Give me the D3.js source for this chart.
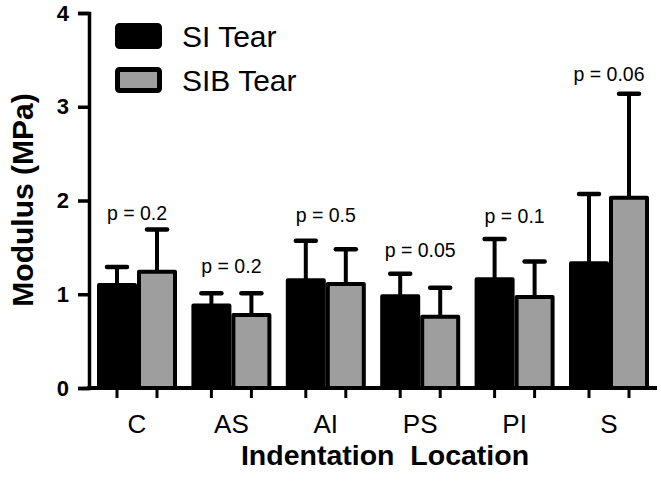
<!DOCTYPE html>
<html>
<head>
<meta charset="utf-8">
<script src="https://cdn.jsdelivr.net/npm/d3@7"></script>
<style>
  html, body { margin: 0; padding: 0; background: #fff; }
  svg { display: block; font-family: "Liberation Sans", Arial, Helvetica, sans-serif; }
</style>
</head>
<body>
<svg id="chart" width="661" height="482"></svg>
<script>
// ---- data ----
const categories = ["C", "AS", "AI", "PS", "PI", "S"];
const seriesNames = ["SI Tear", "SIB Tear"];
const siMean = [1.10, 0.88, 1.15, 0.98, 1.16, 1.33];
const siSD   = [0.19, 0.13, 0.42, 0.24, 0.43, 0.74];
const sibMean = [1.24, 0.78, 1.11, 0.76, 0.97, 2.03];
const sibSD   = [0.45, 0.23, 0.37, 0.31, 0.38, 1.11];
const pLabels = ["p = 0.2", "p = 0.2", "p = 0.5", "p = 0.05", "p = 0.1", "p = 0.06"];
const pLabelLevel = [1.79, 1.23, 1.77, 1.40, 1.76, 3.28]; // MPa level of label baseline
const yTicks = [0, 1, 2, 3, 4];

const colors = ["#000000", "#9e9e9e"];

// ---- layout ----
const svg = d3.select("#chart");
const axisX = 89, axisBottom = 388, axisTop = 13, axisRight = 657;

const x0 = d3.scaleBand()
  .domain(categories)
  .range([axisX, axisRight])
  .paddingInner(0.1525)
  .paddingOuter(0.0847);

const x1 = d3.scaleBand()
  .domain(seriesNames)
  .range([0, x0.bandwidth()])
  .padding(0);

const y = d3.scaleLinear().domain([0, 4]).range([axisBottom, axisTop]);

const rows = categories.map((c, i) => ({
  cat: c,
  vals: [
    { s: seriesNames[0], m: siMean[i], sd: siSD[i] },
    { s: seriesNames[1], m: sibMean[i], sd: sibSD[i] }
  ]
}));

const sw = 4;

// error bars (behind bars)
const g = svg.append("g");
rows.forEach(r => {
  r.vals.forEach((v, j) => {
    const cx = x0(r.cat) + x1(v.s) + x1.bandwidth() / 2;
    g.append("line")
      .attr("x1", cx).attr("x2", cx)
      .attr("y1", y(v.m)).attr("y2", y(v.m + v.sd))
      .attr("stroke", "#000").attr("stroke-width", 4);
    g.append("line")
      .attr("x1", cx - 10).attr("x2", cx + 10)
      .attr("y1", y(v.m + v.sd)).attr("y2", y(v.m + v.sd))
      .attr("stroke", "#000").attr("stroke-width", 4.5)
      .attr("stroke-linecap", "round");
  });
});

// bars
rows.forEach(r => {
  r.vals.forEach((v, j) => {
    g.append("rect")
      .attr("x", x0(r.cat) + x1(v.s) + sw / 2)
      .attr("width", x1.bandwidth() - sw)
      .attr("y", y(v.m))
      .attr("height", y(0) - y(v.m))
      .attr("fill", colors[j])
      .attr("stroke", "#000")
      .attr("stroke-width", sw)
      .attr("stroke-linejoin", "round");
  });
});

// p labels
rows.forEach((r, i) => {
  svg.append("text")
    .attr("x", x0(r.cat) + x0.bandwidth() / 2)
    .attr("y", y(pLabelLevel[i]))
    .attr("text-anchor", "middle")
    .attr("font-size", "19.5px")
    .attr("fill", "#000")
    .text(pLabels[i]);
});

// y axis
const yAxis = d3.axisLeft(y).tickValues(yTicks).tickSize(11).tickPadding(9).tickFormat(d3.format("d"));
const yg = svg.append("g").attr("transform", `translate(${axisX},0)`).call(yAxis);
yg.select(".domain").attr("stroke", "#000").attr("stroke-width", 3.5);
yg.selectAll(".tick line").attr("stroke", "#000").attr("stroke-width", 3.5);
yg.selectAll(".tick text")
  .attr("font-size", "22px").attr("font-weight", "bold")
  .attr("font-family", "\"Liberation Sans\", Arial, sans-serif")
  .attr("fill", "#000");

// x axis: group labels
const xAxis = d3.axisBottom(x0).tickSize(0).tickPadding(27);
const xg = svg.append("g").attr("transform", `translate(0,${axisBottom})`).call(xAxis);
xg.select(".domain").remove();
xg.selectAll(".tick text")
  .attr("font-size", "26px")
  .attr("font-family", "\"Liberation Sans\", Arial, sans-serif")
  .attr("fill", "#000");

// x axis line and per-bar ticks
svg.append("line")
  .attr("x1", axisX - 1.75).attr("x2", axisRight)
  .attr("y1", axisBottom).attr("y2", axisBottom)
  .attr("stroke", "#000").attr("stroke-width", 4);
rows.forEach(r => {
  r.vals.forEach(v => {
    const cx = x0(r.cat) + x1(v.s) + x1.bandwidth() / 2;
    svg.append("line")
      .attr("x1", cx).attr("x2", cx)
      .attr("y1", axisBottom).attr("y2", axisBottom + 10)
      .attr("stroke", "#000").attr("stroke-width", 3);
  });
});

// axis titles
svg.append("text")
  .attr("transform", `translate(33,200) rotate(-90)`)
  .attr("text-anchor", "middle")
  .attr("font-size", "30px").attr("font-weight", "bold")
  .attr("fill", "#000")
  .text("Modulus (MPa)");

svg.append("text")
  .attr("x", 385).attr("y", 465)
  .attr("text-anchor", "middle")
  .attr("font-size", "28.5px").attr("font-weight", "bold")
  .attr("fill", "#000")
  .style("white-space", "pre")
  .text("Indentation  Location");

// legend
const legend = svg.append("g");
seriesNames.forEach((s, i) => {
  const ly = 25.5 + i * 44;
  legend.append("rect")
    .attr("x", 117.5).attr("y", ly)
    .attr("width", 42).attr("height", 21)
    .attr("rx", 2)
    .attr("fill", colors[i])
    .attr("stroke", "#000").attr("stroke-width", 5);
  legend.append("text")
    .attr("x", 182).attr("y", ly + 21.5)
    .attr("font-size", "30px")
    .attr("fill", "#000")
    .text(s);
});
</script>
</body>
</html>
